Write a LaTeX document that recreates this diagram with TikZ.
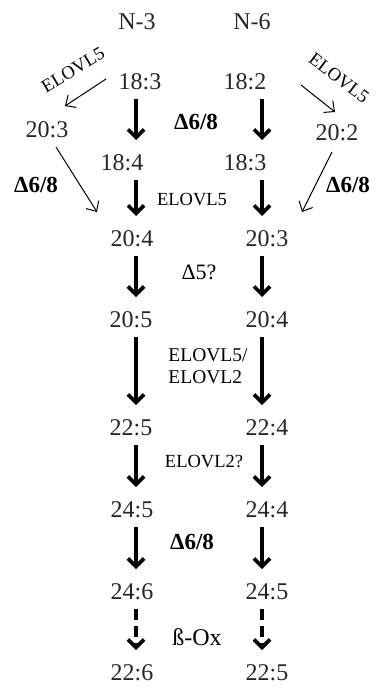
\documentclass[tikz,border=0pt]{standalone}
\usepackage{fontspec}
\setmainfont{Liberation Serif}
\usetikzlibrary{arrows.meta}

\tikzset{
  fa/.style={font=\fontsize{24}{26}\selectfont, text=black!85, inner sep=0pt},
  lab/.style={font=\fontsize{18.5}{22}\selectfont, inner sep=0pt},
  blab/.style={font=\fontsize{23}{25}\selectfont\bfseries, inner sep=0pt},
  bigarrow/.style={line width=3.6pt, -{Straight Barb[length=8pt,width=16pt]},
                   shorten <=17pt, shorten >=23pt},
  dasharrow/.style={bigarrow, dash pattern=on 11pt off 6pt},
  thinarrow/.style={line width=1pt, -{Straight Barb[length=8pt,width=15pt]}}
}

\begin{document}
\begin{tikzpicture}[x=1pt,y=-1pt]
\useasboundingbox (0,0) rectangle (380,690);

% column axes for the main arrows
\coordinate (L) at (136,0);
\coordinate (R) at (262,0);

% headings
\node[fa] (n3) at (137,22) {N-3};
\node[fa] (n6) at (252,22) {N-6};

% n-3 series
\node[fa] (a183) at (140,82) {18:3};
\node[fa] (a203) at (47,130) {20:3};
\node[fa] (a184) at (122,163) {18:4};
\node[fa] (a204) at (132,239) {20:4};
\node[fa] (a205) at (131,320) {20:5};
\node[fa] (a225) at (131,428) {22:5};
\node[fa] (a245) at (132,510) {24:5};
\node[fa] (a246) at (132,592) {24:6};
\node[fa] (a226) at (132,673) {22:6};

% n-6 series
\node[fa] (b182) at (245,82) {18:2};
\node[fa] (b202) at (337,133) {20:2};
\node[fa] (b183) at (245,163) {18:3};
\node[fa] (b203) at (267,239) {20:3};
\node[fa] (b204) at (267,320) {20:4};
\node[fa] (b224) at (267,428) {22:4};
\node[fa] (b244) at (267,510) {24:4};
\node[fa] (b245) at (267,592) {24:5};
\node[fa] (b225) at (267,673) {22:5};

% enzyme labels
\node[lab, rotate=31] (elL) at (73,70) {ELOVL5};
\node[lab, rotate=-37] (elR) at (339,78) {ELOVL5};
\node[blab] (d1) at (196,122) {Δ6/8};
\node[blab] (d2) at (36,185) {Δ6/8};
\node[blab] (d3) at (348,185) {Δ6/8};
\node[lab] (e1) at (192,200) {ELOVL5};
\node[lab, font=\fontsize{22}{24}\selectfont] (d5) at (199,272) {Δ5?};
\node[lab, font=\fontsize{19.5}{22}\selectfont, align=left] (e2) at (208,366) {ELOVL5/\\ELOVL2};
\node[lab] (e3) at (204,462) {ELOVL2?};
\node[blab] (d4) at (192,542) {Δ6/8};
\node[lab, font=\fontsize{24}{26}\selectfont] (box) at (197,637) {ß-Ox};

% side branches
\coordinate (tl1) at (106,79);  \coordinate (hl1) at (65,106);
\coordinate (tr1) at (301,85);  \coordinate (hr1) at (335,112);
\coordinate (tl2) at (56,147);  \coordinate (hl2) at (97,212);
\coordinate (tr2) at (332,152); \coordinate (hr2) at (302,212);
\draw[thinarrow] (tl1) -- (hl1);
\draw[thinarrow] (tr1) -- (hr1);
\draw[thinarrow] (tl2) -- (hl2);
\draw[thinarrow] (tr2) -- (hr2);

% main n-3 chain
\draw[bigarrow] (a183.center -| L) -- (a184.center -| L);
\draw[bigarrow] (a184.center -| L) -- (a204.center -| L);
\draw[bigarrow] (a204.center -| L) -- (a205.center -| L);
\draw[bigarrow] (a205.center -| L) -- (a225.center -| L);
\draw[bigarrow] (a225.center -| L) -- (a245.center -| L);
\draw[bigarrow] (a245.center -| L) -- (a246.center -| L);
\draw[dasharrow] (a246.center -| L) -- (a226.center -| L);

% main n-6 chain
\draw[bigarrow] (b182.center -| R) -- (b183.center -| R);
\draw[bigarrow] (b183.center -| R) -- (b203.center -| R);
\draw[bigarrow] (b203.center -| R) -- (b204.center -| R);
\draw[bigarrow] (b204.center -| R) -- (b224.center -| R);
\draw[bigarrow] (b224.center -| R) -- (b244.center -| R);
\draw[bigarrow] (b244.center -| R) -- (b245.center -| R);
\draw[dasharrow] (b245.center -| R) -- (b225.center -| R);
\end{tikzpicture}
\end{document}
